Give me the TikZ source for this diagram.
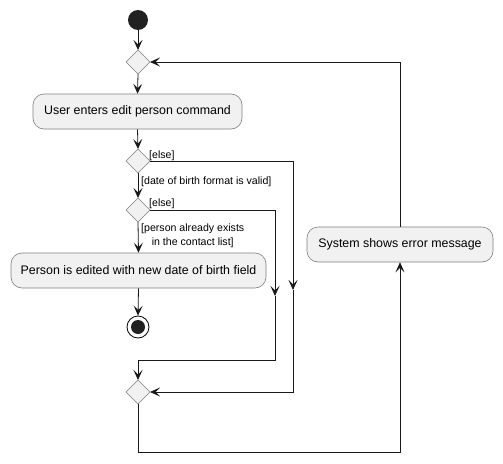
\documentclass[tikz,border=0pt]{standalone}
\usepackage{fontspec}
\setmainfont{Liberation Sans}
\usetikzlibrary{arrows.meta}
\definecolor{actfill}{HTML}{F1F1F1}
\definecolor{actdraw}{HTML}{181818}
\definecolor{linec}{HTML}{181818}
\definecolor{dmddraw}{HTML}{808080}
\tikzset{
  act/.style={draw=dmddraw, fill=actfill, rounded corners=11pt, minimum height=35pt, inner sep=0pt, font=\fontsize{12.4}{14}\selectfont, line width=0.6pt},
  dmd/.style={draw=dmddraw, fill=actfill, line width=0.6pt},
  flow/.style={draw=linec, line width=0.8pt},
  arr/.style={flow, -{Stealth[length=10pt,width=9pt,inset=4.5pt]}},
  lbl/.style={font=\fontsize{10.6}{14}\selectfont, inner sep=0pt, text=black}
}
\begin{document}
\begin{tikzpicture}[x=1pt,y=-1pt]
\useasboundingbox[fill=white] (0,0) rectangle (503,463);
% start
\node[circle, fill=black!87, minimum size=20pt, inner sep=0pt] (start) at (138,20) {};
% diamonds
\draw[dmd] (126,62) -- (138,50) -- (150,62) -- (138,74) -- cycle;
\coordinate (d1n) at (138,50); \coordinate (d1e) at (150,62); \coordinate (d1s) at (138,74);
\draw[dmd] (126,161) -- (138,149) -- (150,161) -- (138,173) -- cycle;
\coordinate (d2n) at (138,149); \coordinate (d2e) at (150,161); \coordinate (d2s) at (138,173);
\draw[dmd] (126,210) -- (138,198) -- (150,210) -- (138,222) -- cycle;
\coordinate (d3n) at (138,198); \coordinate (d3e) at (150,210); \coordinate (d3s) at (138,222);
\draw[dmd] (126,392) -- (138,380) -- (150,392) -- (138,404) -- cycle;
\coordinate (d4n) at (138,380); \coordinate (d4e) at (150,392); \coordinate (d4s) at (138,404);
% actions
\node[act, minimum width=209pt] (a1) at (137.5,111.5) {User enters edit person command};
\node[act, minimum width=255pt] (a2) at (138.5,270.5) {Person is edited with new date of birth field};
\node[act, minimum width=186pt] (a3) at (400,244.5) {System shows error message};
% end
\node[circle, draw=black, line width=0.8pt, fill=white, minimum size=22pt, inner sep=0pt] (endo) at (138,327) {};
\node[circle, fill=black!87, minimum size=14pt, inner sep=0pt] (endi) at (138,327) {};
% main flow
\draw[arr] (start) -- (d1n);
\draw[arr] (d1s) -- (a1.north);
\draw[arr] (a1.south) -- (d2n);
\draw[arr] (d2s) -- (d3n);
\draw[arr] (d3s) -- (a2.north);
\draw[arr] (a2.south) -- (endo.north);
% else branch 1
\coordinate (e1a) at (293,161);
\coordinate (e1b) at (293,290);
\coordinate (e1c) at (293,392);
\draw[arr] (d2e) -- (e1a) -- (e1b);
\draw[arr] (e1b) -- (e1c) -- (d4e);
% else branch 2
\coordinate (e2a) at (275,210);
\coordinate (e2b) at (275,296);
\coordinate (e2c) at (275,360);
\coordinate (e2d) at (138,360);
\draw[arr] (d3e) -- (e2a) -- (e2b);
\draw[arr] (e2b) -- (e2c) -- (e2d) -- (d4n);
% loop back
\coordinate (l1) at (138,452);
\coordinate (l2) at (400,452);
\coordinate (l3) at (400,62);
\draw[arr] (d4s) -- (l1) -- (l2) -- (a3.south);
\draw[arr] (a3.north) -- (l3) -- (d1e);
% labels
\node[lbl, anchor=west] (le1) at (149,155.5) {[else]};
\node[lbl, anchor=west] (le2) at (149,203.5) {[else]};
\node[lbl, anchor=west] (lv) at (141,182) {[date of birth format is valid]};
\node[lbl, anchor=west, align=center] (lp) at (141,236) {[person already exists\\in the contact list]};
\end{tikzpicture}
\end{document}
